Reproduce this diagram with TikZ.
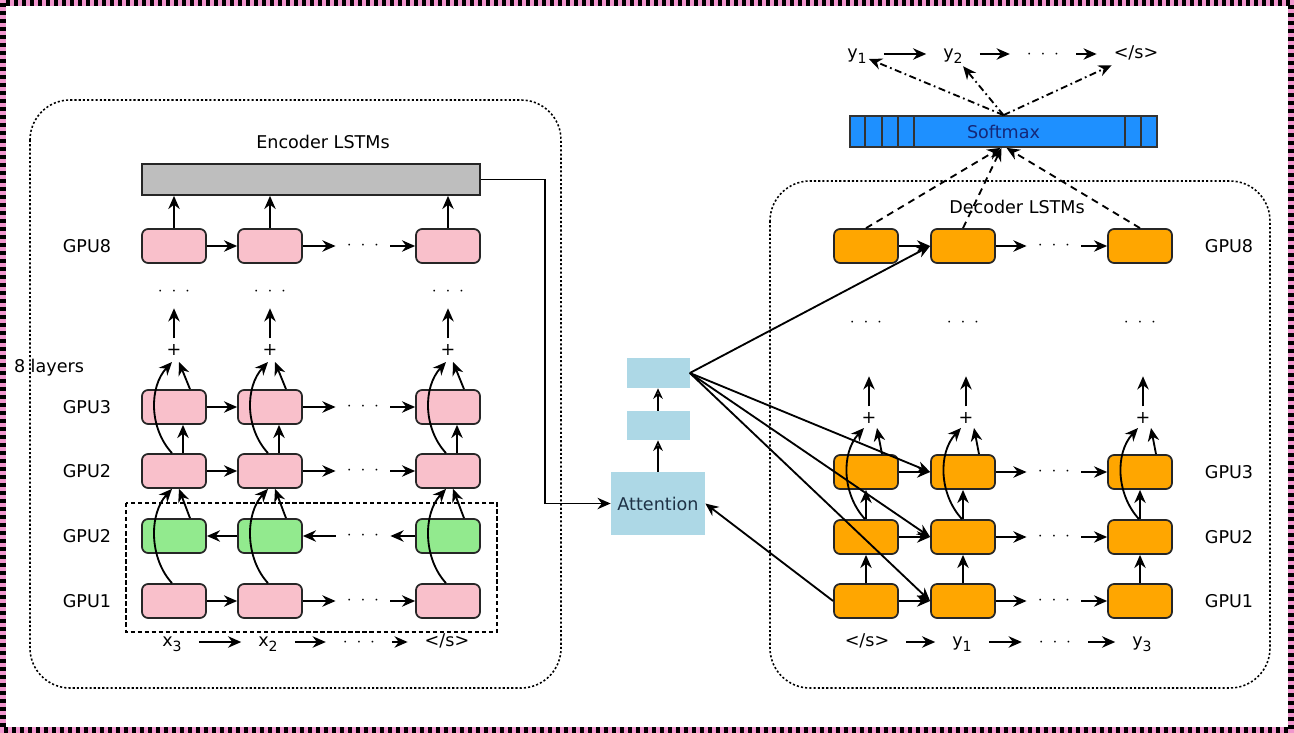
\documentclass[tikz,border=0pt]{standalone}
\usepackage{fontspec}
\setmainfont{DejaVu Sans}
\usetikzlibrary{arrows.meta,calc}

\definecolor{lstmpink}{RGB}{249,192,203}
\definecolor{lstmgreen}{RGB}{146,234,142}
\definecolor{lstmorange}{RGB}{255,166,0}
\definecolor{barGray}{RGB}{190,190,190}
\definecolor{attblue}{RGB}{173,216,230}
\definecolor{atttext}{RGB}{30,50,70}
\definecolor{softblue}{RGB}{30,144,255}
\definecolor{softtext}{RGB}{20,40,120}
\definecolor{framepink}{RGB}{240,150,205}

\newcommand{\sub}[1]{\raisebox{-0.55ex}{\footnotesize #1}}
\newcommand{\hd}{$\cdot\;\cdot\;\cdot$}

\tikzset{
  lstm/.style={draw=black!85, line width=1pt, rounded corners=3.5pt, minimum width=1.28cm, minimum height=0.68cm, inner sep=0pt},
  enc/.style={lstm, fill=lstmpink},
  bwd/.style={lstm, fill=lstmgreen},
  dec/.style={lstm, fill=lstmorange},
  att/.style={fill=attblue, inner sep=0pt},
  hdots/.style={inner xsep=0.22cm, inner ysep=0pt},
  tok/.style={inner sep=1pt, text height=1.5ex, text depth=0.6ex},
  arr/.style={-{Stealth[length=7.5pt,width=6.5pt]}, line width=1.05pt},
  tokarr/.style={arr, shorten <=0.3cm, shorten >=0.3cm},
  openarr/.style={-{Stealth[open,length=6pt,width=5.5pt]}, line width=0.9pt},
  softarr/.style={arr, dash pattern=on 4pt off 3pt},
  outarr/.style={arr, dash pattern=on 4pt off 2pt on 1pt off 2pt},
  region/.style={dash pattern=on 1.2pt off 1.2pt, line width=0.9pt, rounded corners=0.8cm},
}

\begin{document}
\begin{tikzpicture}[x=0.02cm, y=-0.02cm]
\useasboundingbox (0,0) rectangle (1294,733);
% frame round the picture
\draw[framepink, line width=0.13cm] (3,3) rectangle (1291,730);
\draw[line width=0.13cm, dash pattern=on 0.08cm off 0.08cm] (3,3) rectangle (1291,730);

% encoder and decoder regions
\draw[region] (30,100) rectangle (561,688);
\draw[region] (770,181) rectangle (1270,688);
\draw[line width=0.9pt, dash pattern=on 2.5pt off 1.5pt] (126,503) rectangle (497,632);

\node (enct) at (323,142) {Encoder LSTMs};
\node (dect) at (1017,207) {Decoder LSTMs};
\node[fill=barGray, draw=black!85, line width=1pt, minimum width=6.76cm, minimum height=0.62cm] (bar) at (311,179.5) {};

% encoder
\foreach \r/\y/\s in {8/246/enc,3/407/enc,2/471/enc,g/536/bwd,1/601/enc}{
  \node[\s] (e\r-1) at (174,\y) {};
  \node[\s] (e\r-2) at (270,\y) {};
  \node[\s] (e\r-3) at (448,\y) {};
  \node[hdots] (e\r-d) at (363,\y) {\hd};
}
\node (el8) at (87,246) {GPU8};
\node (el3) at (87,407) {GPU3};
\node (el2) at (87,471) {GPU2};
\node (elg) at (87,536) {GPU2};
\node (el1) at (87,601) {GPU1};
\node (layers) at (49,368) {8 layers};

\foreach \r in {8,3,2,1}{
  \draw[arr] (e\r-1) -- (e\r-2);
  \draw[arr] (e\r-2) -- (e\r-d);
  \draw[arr] (e\r-d) -- (e\r-3);
}
\draw[arr] (eg-2) -- (eg-1);
\draw[arr] (eg-d) -- (eg-2);
\draw[arr] (eg-3) -- (eg-d);

\foreach \i/\x in {1/174,2/270,3/448}{
  \node (ep-\i) at (\x,350) {+};
  \node (ev-\i) at (\x,292) {\hd};
  \draw[arr] (e8-\i.north) -- (e8-\i.north |- bar.south);
  \draw[arr] (ep-\i.north) -- ++(0,-30);
  \draw[arr] ($(e2-\i.north)+(-2,0)$) .. controls +(-23,-25) and +(-23,25) .. ($(ep-\i)+(-2,12)$);
  \draw[arr] ($(e3-\i.north)+(16,0)$) -- ($(ep-\i)+(5,12)$);
  \draw[arr] ($(e2-\i.north)+(9,0)$) -- ($(e3-\i.south)+(9,0)$);
  \draw[arr] ($(e1-\i.north)+(-2,0)$) .. controls +(-23,-25) and +(-23,25) .. ($(e2-\i.south)+(-2,0)$);
  \draw[arr] ($(eg-\i.north)+(16,0)$) -- ($(e2-\i.south)+(5,0)$);
}

\node[tok] (in-1) at (172,642) {x\sub{3}};
\node[tok] (in-2) at (268,642) {x\sub{2}};
\node[tok] (in-d) at (359,642) {\hd};
\node[tok] (in-3) at (447,642) {</s>};
\draw[tokarr] (in-1) -- (in-2);
\draw[tokarr] (in-2) -- (in-d);
\draw[tokarr] (in-d) -- (in-3);

% attention
\node[att, minimum width=1.88cm, minimum height=1.26cm, text=atttext] (attn) at (658,503.5) {Attention};
\node[att, minimum width=1.26cm, minimum height=0.58cm] (att2) at (658,425.5) {};
\node[att, minimum width=1.26cm, minimum height=0.6cm] (att3) at (658,373) {};
\draw[openarr] (attn) -- (att2);
\draw[openarr] (att2) -- (att3);

% softmax
\node[fill=softblue, draw=black!80, line width=1pt, minimum width=6.14cm, minimum height=0.62cm, text=softtext] (soft) at (1003.5,131.5) {Softmax};
\foreach \o in {16,33,49,65}
  \draw[black!80, line width=1pt] ($(soft.north west)+(\o,0)$) -- ($(soft.south west)+(\o,0)$);
\foreach \o in {-33,-17}
  \draw[black!80, line width=1pt] ($(soft.north east)+(\o,0)$) -- ($(soft.south east)+(\o,0)$);

\node[tok] (o1) at (857,54) {y\sub{1}};
\node[tok] (o2) at (953,54) {y\sub{2}};
\node[tok] (o-d) at (1043,54) {\hd};
\node[tok] (o3) at (1136,54) {</s>};
\draw[tokarr] (o1) -- (o2);
\draw[tokarr] (o2) -- (o-d);
\draw[tokarr] (o-d) -- (o3);
\draw[outarr] (soft.north) -- (o1);
\draw[outarr] (soft.north) -- (o2);
\draw[outarr] (soft.north) -- (o3);

% decoder
\foreach \r/\y in {8/246,3/472,2/537,1/601}{
  \node[dec] (d\r-1) at (866,\y) {};
  \node[dec] (d\r-2) at (963,\y) {};
  \node[dec] (d\r-3) at (1140,\y) {};
  \node[hdots] (d\r-d) at (1054,\y) {\hd};
  \draw[arr] (d\r-1) -- (d\r-2);
  \draw[arr] (d\r-2) -- (d\r-d);
  \draw[arr] (d\r-d) -- (d\r-3);
}
\node (dl8) at (1229,246) {GPU8};
\node (dl3) at (1229,472) {GPU3};
\node (dl2) at (1229,537) {GPU2};
\node (dl1) at (1229,601) {GPU1};

\foreach \i/\x/\s in {1/866/-3,2/963/-2,3/1140/3}{
  \node (dp-\i) at (\x+3,418) {+};
  \node (dv-\i) at (\x,323) {\hd};
  \draw[arr] (dp-\i.north) -- ++(0,-30);
  \draw[arr] (d1-\i) -- (d2-\i);
  \draw[arr] (d2-\i) -- (d3-\i);
  \draw[arr] ($(d2-\i.north)+(-1,0)$) .. controls +(-23,-25) and +(-23,25) .. ($(dp-\i)+(-5,10)$);
  \draw[arr] ($(d3-\i.north)+(16,0)$) -- ($(dp-\i)+(8,10)$);
  \draw[softarr] (d8-\i.north) -- ($(soft.south)+(\s,0)$);
}

\node[tok] (dn-1) at (867,642) {</s>};
\node[tok] (dn-2) at (962,642) {y\sub{1}};
\node[tok] (dn-d) at (1055,642) {\hd};
\node[tok] (dn-3) at (1142,642) {y\sub{3}};
\draw[tokarr] (dn-1) -- (dn-2);
\draw[tokarr] (dn-2) -- (dn-d);
\draw[tokarr] (dn-d) -- (dn-3);

% connections through attention
\draw[arr] (bar.east) -- ++(64,0) |- (attn.west);
\draw[arr] (d1-1.west) -- (attn.east);
\foreach \r in {8,3,2,1}
  \draw[arr] (att3.east) -- (d\r-2.west);

\end{tikzpicture}
\end{document}
